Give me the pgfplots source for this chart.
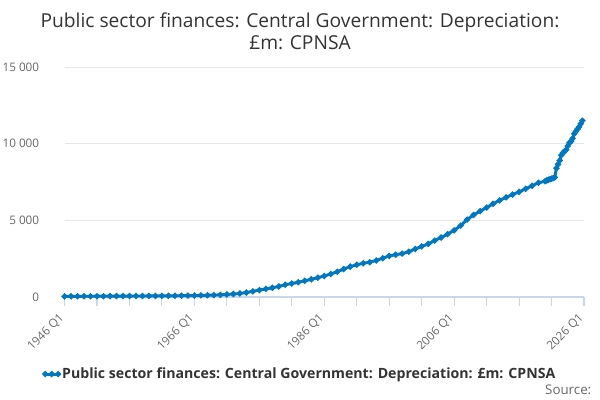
\documentclass[border=0pt]{standalone}
\usepackage{fontspec}
\setmainfont{Open Sans}
\usepackage{pgfplots}
\pgfplotsset{compat=1.18}
\definecolor{linec}{RGB}{0,119,190}
\definecolor{gridc}{RGB}{230,230,230}
\definecolor{axisc}{RGB}{204,214,235}
\definecolor{labc}{RGB}{102,102,102}
\definecolor{titc}{RGB}{51,51,51}
\pgfplotstableread{
x y
1946 40
1947 42
1948 45
1949 48
1950 50
1951 52
1952 54
1953 56
1954 58
1955 60
1956 62
1957 64
1958 66
1959 68
1960 70
1961 73
1962 76
1963 80
1964 85
1965 90
1966 96
1967 103
1968 112
1969 125
1970 140
1971 165
1972 195
1973 230
1974 290
1975 370
1976 450
1977 530
1978 600
1979 690
1980 800
1981 880
1982 960
1983 1060
1984 1150
1985 1260
1986 1370
1987 1500
1988 1650
1989 1820
1990 1980
1991 2100
1992 2200
1993 2270
1994 2380
1995 2530
1996 2680
1997 2760
1998 2830
1999 2950
2000 3130
2001 3300
2002 3460
2003 3680
2004 3880
2005 4100
2006 4350
2007 4650
2008 5050
2009 5350
2010 5600
2011 5830
2012 6080
2013 6300
2014 6500
2015 6680
2016 6850
2017 7050
2018 7250
2019 7450
2020 7550
2020.25 7600
2020.5 7640
2020.75 7680
2021 7720
2021.25 7760
2021.5 7800
2021.75 8400
2022 8650
2022.25 8900
2022.5 9250
2022.75 9400
2023 9500
2023.25 9600
2023.5 9850
2023.75 10050
2024 10150
2024.25 10350
2024.5 10650
2024.75 10800
2025 10950
2025.25 11100
2025.5 11300
2025.75 11500
}\datatable
\begin{document}
\begin{tikzpicture}
\path[use as bounding box] (0,0) rectangle (450pt,300pt);
\node[align=center, text=titc, font=\fontsize{14.4pt}{16.5pt}\selectfont] at (225pt,276.4pt)
  {Public sector finances: Central Government: Depreciation:\\ £m: CPNSA};
\begin{axis}[
  at={(48.4pt,77.25pt)}, anchor=south west,
  scale only axis, width=389.6pt, height=172.5pt,
  xmin=1946, xmax=2026, ymin=0, ymax=15000,
  axis x line*=bottom, axis y line*=left,
  x axis line style={axisc, line width=0.8pt},
  y axis line style={draw=none},
  xtick={1946,1966,1986,2006,2026},
  xticklabels={1946 Q1,1966 Q1,1986 Q1,2006 Q1,2026 Q1},
  minor xtick={1951,1956,1961,1971,1976,1981,1991,1996,2001,2011,2016,2021},
  x tick style={axisc, line width=0.8pt},
  y tick style={draw=none},
  major tick length=7pt, minor tick length=7pt,
  tick align=outside,
  scaled y ticks=false,
  x tick label style={xshift=-1pt, yshift=-6.5pt, rotate=45, anchor=east, font=\fontsize{8.8pt}{10pt}\selectfont, text=labc, inner sep=1pt},
  ytick={0,5000,10000,15000},
  yticklabels={0,5 000,10 000,15 000},
  ymajorgrids, grid style={gridc, line width=0.6pt},
  y tick label style={font=\fontsize{8.8pt}{10pt}\selectfont, text=labc, xshift=-8.5pt},
  legend style={at={(0.455,-0.335)}, anchor=center, draw=none, fill=none,
    font=\bfseries\fontsize{10.6pt}{12pt}\selectfont, text=titc},
  legend image code/.code={\draw[#1] plot coordinates {(0cm,0cm) (0.17cm,0cm) (0.34cm,0cm)};},
  clip=false,
]
\addplot[linec, line width=2.2pt, mark=*, mark size=1pt, mark options={solid}] table[x=x,y=y] {\datatable};
\addlegendentry{Public sector finances: Central Government: Depreciation: £m: CPNSA}
\end{axis}
\node[anchor=east, text=labc, font=\fontsize{10pt}{11pt}\selectfont] at (447pt,7.5pt) {Source:};
\end{tikzpicture}
\end{document}
